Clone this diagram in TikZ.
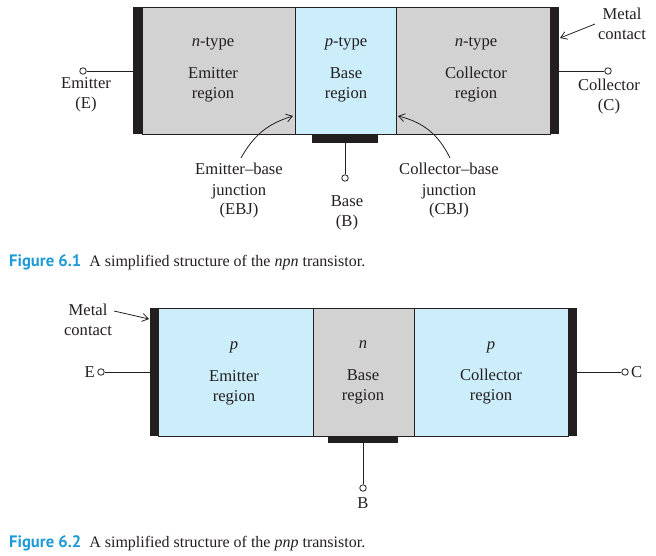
\documentclass[tikz,border=0pt]{standalone}
\usepackage{fontspec}
\setmainfont{Liberation Serif}
\newfontfamily\capfont{PT Sans}
\usetikzlibrary{arrows.meta}
\definecolor{grayreg}{RGB}{210,210,210}
\definecolor{bluereg}{RGB}{204,238,250}
\definecolor{barcol}{RGB}{35,31,32}
\definecolor{capblue}{RGB}{30,155,215}
\begin{document}
\begin{tikzpicture}[x=1pt,y=-1pt,
  reg/.style={draw=barcol,line width=0.9pt,inner sep=0,anchor=north west,outer sep=0},
  metal/.style={fill=barcol,inner sep=0,anchor=north west,outer sep=0},
  term/.style={circle,draw=barcol,fill=white,line width=0.8pt,minimum size=6.5pt,inner sep=0},
  lead/.style={draw=barcol,line width=0.8pt},
  txt/.style={font=\fontsize{16.6}{20}\selectfont,align=center,anchor=base,inner sep=0,text=barcol},
  pointer/.style={draw=barcol,line width=0.8pt,-{Straight Barb[length=6pt,width=8pt,line width=0.8pt]}},
  captxt/.style={font=\fontsize{16}{18}\selectfont,anchor=base west,inner sep=0,text=barcol}
]
\useasboundingbox (0,0) rectangle (656,556);
\fill[white] (0,0) rectangle (656,556);

% ---------------- Figure 6.1 (npn) ----------------
\node[reg,fill=grayreg,minimum width=153pt,minimum height=127pt] (ne) at (142,7) {};
\node[reg,fill=bluereg,minimum width=101pt,minimum height=127pt] (nb) at (295,7) {};
\node[reg,fill=grayreg,minimum width=154pt,minimum height=127pt] (nc) at (396,7) {};
\node[metal,minimum width=9pt,minimum height=127pt] (nml) at (133,7) {};
\node[metal,minimum width=9pt,minimum height=127pt] (nmr) at (550,7) {};
\node[metal,minimum width=66pt,minimum height=9pt] (nmb) at (312,134) {};

\node[txt] (nt1) at (213,47) {\textit{n}-type};
\node[txt] (nt2) at (346,47) {\textit{p}-type};
\node[txt] (nt3) at (476,47) {\textit{n}-type};
\node[txt] (nr1) at (213,99) {Emitter\\region};
\node[txt] (nr2) at (346,99) {Base\\region};
\node[txt] (nr3) at (476,99) {Collector\\region};

\node[term] (nE) at (83,71) {};
\node[term] (nC) at (608,71) {};
\node[term] (nB) at (345,178) {};
\draw[lead] (nE) -- (nE -| nml.west);
\draw[lead] (nC) -- (nC -| nmr.east);
\draw[lead] (nB) -- (nB |- nmb.south);

\node[txt] (nEl) at (86,109) {Emitter\\(E)};
\node[txt] (nCl) at (609,111) {Collector\\(C)};
\node[txt] (nBl) at (347,226) {Base\\(B)};
\node[txt] (nmet) at (622,40) {Metal\\contact};
\node[txt] (nebj) at (239,215) {Emitter--base\\junction\\(EBJ)};
\node[txt] (ncbj) at (449,215) {Collector--base\\junction\\(CBJ)};

\coordinate (nmetS) at (595,24);
\coordinate (nmetT) at (560,38);
\draw[pointer] (nmetS) -- (nmetT);
\coordinate (nebjS) at (241,158);
\coordinate (nebjT) at (293,116);
\draw[pointer] (nebjS) to[bend left=22] (nebjT);
\coordinate (ncbjS) at (450,158);
\coordinate (ncbjT) at (398,116);
\draw[pointer] (ncbjS) to[bend right=25] (ncbjT);

\node[captxt] (cap1) at (9,266) {{\capfont\bfseries\fontsize{16.6}{18}\selectfont\color{capblue}Figure 6.1}\hspace{8pt}A simplified structure of the \textit{npn} transistor.};

% ---------------- Figure 6.2 (pnp) ----------------
\node[reg,fill=bluereg,minimum width=155pt,minimum height=128pt] (pe) at (158,308) {};
\node[reg,fill=grayreg,minimum width=101pt,minimum height=128pt] (pb) at (313,308) {};
\node[reg,fill=bluereg,minimum width=154pt,minimum height=128pt] (pc) at (414,308) {};
\node[metal,minimum width=8pt,minimum height=128pt] (pml) at (150,308) {};
\node[metal,minimum width=9pt,minimum height=128pt] (pmr) at (568,308) {};
\node[metal,minimum width=70pt,minimum height=7pt] (pmb) at (328,436) {};

\node[txt] (pt1) at (234,349) {\textit{p}};
\node[txt] (pt2) at (363,348) {\textit{n}};
\node[txt] (pt3) at (491,349) {\textit{p}};
\node[txt] (pr1) at (234,401) {Emitter\\region};
\node[txt] (pr2) at (363,400) {Base\\region};
\node[txt] (pr3) at (491,400) {Collector\\region};

\node[term] (pE) at (101,372) {};
\node[term] (pC) at (625,372) {};
\node[term] (pB) at (363,488) {};
\draw[lead] (pE) -- (pE -| pml.west);
\draw[lead] (pC) -- (pC -| pmr.east);
\draw[lead] (pB) -- (pB |- pmb.south);

\node[txt,anchor=base east] (pEl) at (95,377) {E};
\node[txt,anchor=base west] (pCl) at (631,377) {C};
\node[txt] (pBl) at (363,508) {B};
\node[txt] (pmet) at (88,335) {Metal\\contact};
\coordinate (pmetS) at (114,311);
\coordinate (pmetT) at (149,319);
\draw[pointer] (pmetS) -- (pmetT);

\node[captxt] (cap2) at (9,547) {{\capfont\bfseries\fontsize{16.6}{18}\selectfont\color{capblue}Figure 6.2}\hspace{8pt}A simplified structure of the \textit{pnp} transistor.};
\end{tikzpicture}
\end{document}
